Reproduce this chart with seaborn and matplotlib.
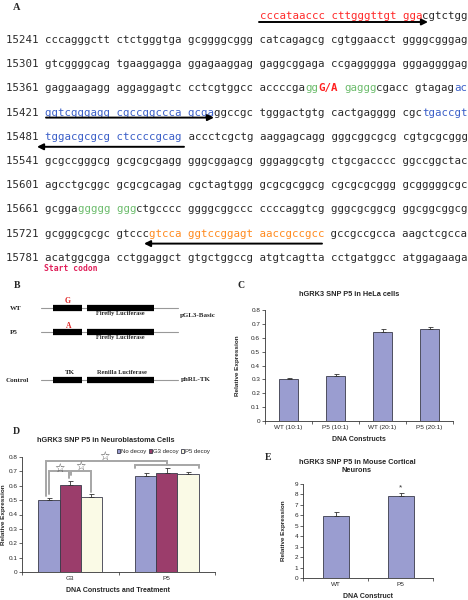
import numpy as np
import pandas as pd
import matplotlib
matplotlib.use('Agg')
import matplotlib.pyplot as plt
from matplotlib.ticker import FuncFormatter, MultipleLocator
import seaborn as sns

sns.set_style('ticks')
plt.rcParams['font.family'] = ['Liberation Sans', 'DejaVu Sans']

# ---- panel C: HeLa cells
hela_constructs = ['WT (10:1)', 'P5 (10:1)', 'WT (20:1)', 'P5 (20:1)']
hela_expr = [0.305, 0.322, 0.642, 0.665]
hela_err = [0.008, 0.015, 0.02, 0.01]

# ---- panel D: neuroblastoma cells
neuro_constructs = ['G3', 'P5']
neuro_treatments = ['No decoy', 'G3 decoy', 'P5 decoy']
neuro_expr_g3 = [0.502, 0.606, 0.52]
neuro_expr_p5 = [0.668, 0.692, 0.682]
neuro_err_g3 = [0.01, 0.03, 0.02]
neuro_err_p5 = [0.02, 0.03, 0.015]

# ---- panel E: mouse cortical neurons
cortical_constructs = ['WT', 'P5']
cortical_expr = [5.95, 7.85]
cortical_err = [0.4, 0.3]

# ---- panel A: promoter sequence (text, colour key)
primer_row = [(' ' * 39, 'k'), ('cccataaccc cttgggttgt gga', 'r'), ('cgtctgg', 'k')]
seq_rows = [
    [('15241 cccagggctt ctctgggtga gcggggcggg catcagagcg cgtggaacct ggggcgggag', 'k')],
    [('15301 gtcggggcag tgaaggagga ggagaaggag gaggcggaga ccgaggggga gggaggggag', 'k')],
    [('15361 gaggaagagg aggaggagtc cctcgtggcc accccga', 'k'), ('gg', 'g'), ('G/A', 'R'),
     (' ', 'k'), ('gaggg', 'g'), ('cgacc gtagag', 'k'), ('ac', 'b')],
    [('15421 ', 'k'), ('ggtcgggagg cgccggccca gcga', 'b'),
     ('ggccgc tgggactgtg cactgagggg cgc', 'k'), ('tgaccgt', 'b')],
    [('15481 ', 'k'), ('tggacgcgcg ctccccgcag', 'b'),
     (' accctcgctg aaggagcagg gggcggcgcg cgtgcgcggg', 'k')],
    [('15541 gcgccgggcg gcgcgcgagg gggcggagcg gggaggcgtg ctgcgacccc ggccggctac', 'k')],
    [('15601 agcctgcggc gcgcgcagag cgctagtggg gcgcgcggcg cgcgcgcggg gcgggggcgc', 'k')],
    [('15661 gcgga', 'k'), ('ggggg ggg', 'g'),
     ('ctgcccc ggggcggccc ccccaggtcg gggcgcggcg ggcggcggcg', 'k')],
    [('15721 gcgggcgcgc gtccc', 'k'), ('gtcca ggtccggagt aaccgccgcc', 'o'),
     (' gccgccgcca aagctcgcca', 'k')],
    [('15781 acatggcgga cctggaggct gtgctggccg atgtcagtta cctgatggcc atggagaaga', 'k')],
]
seq_colors = {'k': '#2a2a2a', 'r': '#ff2a2a', 'R': '#ff2020', 'g': '#6cbc6c',
              'b': '#3b5fc8', 'o': '#ff8a1e'}

W, H = 468, 600
fig = plt.figure(figsize=(W / 100, H / 100), dpi=100)

canvas = fig.add_axes([0, 0, 1, 1])
canvas.set_xlim(0, W)
canvas.set_ylim(H, 0)
canvas.axis('off')


def px_axes(x0, y0, x1, y1):
    return fig.add_axes([x0 / W, 1 - y1 / H, (x1 - x0) / W, (y1 - y0) / H])


serif = ['Liberation Serif', 'DejaVu Serif']
mono = ['DejaVu Sans Mono']
adv = 6.5
mono_size = adv / 0.6021 / (100 / 72)


def seq_line(segs, y):
    col = 0
    for txt, key in segs:
        if txt.strip():
            canvas.text(6 + col * adv, y, txt, family=mono, fontsize=mono_size,
                        color=seq_colors[key], va='center', ha='left',
                        weight='bold' if key == 'R' else 'normal')
        col += len(txt)


def arrow(x_from, x_to, y):
    canvas.annotate('', xy=(x_to, y), xytext=(x_from, y),
                    arrowprops=dict(arrowstyle='-|>', color='black', lw=1.4,
                                    mutation_scale=9, shrinkA=0, shrinkB=0))


# ---------------- panel A
canvas.text(13, 8, 'A', family=serif, weight='bold', fontsize=7.5, va='center')
seq_line(primer_row, 16)
arrow(259, 428, 22)
row_y = [40 + i * 24.2 for i in range(len(seq_rows))]
for segs, y in zip(seq_rows, row_y):
    seq_line(segs, y)
arrow(46, 214, row_y[3] + 5)
arrow(184, 37, row_y[4] + 10)
arrow(322, 144, row_y[8] + 10)
canvas.text(44, row_y[9] + 11, 'Start codon', family=mono, fontsize=5.8,
            color='#e0205a', weight='bold', va='center')

# ---------------- panel B
canvas.text(14, 285, 'B', family=serif, weight='bold', fontsize=7, va='center')
for lab, y, lx in [('WT', 308, 10), ('P5', 332, 10), ('Control', 380, 6)]:
    canvas.text(lx, y, lab, family=serif, weight='bold', fontsize=5, va='center')
    canvas.plot([41, 178], [y, y], color='#999999', lw=0.8)
    canvas.plot([53, 82], [y, y], color='black', lw=4.5, solid_capstyle='butt')
    canvas.plot([87, 154], [y, y], color='black', lw=4.5, solid_capstyle='butt')
canvas.text(68, 301, 'G', family=serif, weight='bold', fontsize=5.5, color='#e02020',
            ha='center', va='center')
canvas.text(69, 326, 'A', family=serif, weight='bold', fontsize=5.5, color='#e02020',
            ha='center', va='center')
canvas.text(120, 314, 'Firefly Luciferase', family=serif, weight='bold', fontsize=4.6,
            ha='center', va='center')
canvas.text(120, 338, 'Firefly Luciferase', family=serif, weight='bold', fontsize=4.6,
            ha='center', va='center')
canvas.text(70, 373, 'TK', family=serif, weight='bold', fontsize=5, ha='center', va='center')
canvas.text(122, 373, 'Renilla Luciferase', family=serif, weight='bold', fontsize=4.6,
            ha='center', va='center')
canvas.text(180, 316, 'pGL3-Basic', family=serif, weight='bold', fontsize=5, va='center')
canvas.text(181, 380, 'phRL-TK', family=serif, weight='bold', fontsize=5, va='center')

# shared chart styling
bar_blue = '#9a9dd0'
edge = '#3a3a4a'
tick_fs = 4.6


def style_axes(ax, ncat):
    sns.despine(ax=ax)
    for s in ['left', 'bottom']:
        ax.spines[s].set_linewidth(0.6)
        ax.spines[s].set_color('#333333')
    ax.tick_params(axis='y', length=2, width=0.5, labelsize=tick_fs, pad=1.5)
    ax.tick_params(axis='x', which='major', length=0, labelsize=tick_fs, pad=3)
    ax.set_xticks(np.arange(ncat + 1) - 0.5, minor=True)
    ax.tick_params(axis='x', which='minor', length=2, width=0.5)
    ax.set_xlim(-0.5, ncat - 0.5)
    ax.set_facecolor('none')


def add_err(ax, bars, errs):
    for bar, e in zip(bars, errs):
        ax.errorbar(bar.get_x() + bar.get_width() / 2, bar.get_height(),
                    yerr=[[0], [e]], fmt='none', ecolor='#333333', elinewidth=0.6,
                    capsize=1.8, capthick=0.6)


# ---------------- panel C
canvas.text(238, 285, 'C', family=serif, weight='bold', fontsize=7, va='center')
canvas.text(349, 294, 'hGRK3 SNP P5 in HeLa cells', fontsize=5.3, weight='bold',
            ha='center', va='center')
axc = px_axes(265, 310, 453, 421)
sns.barplot(x=hela_constructs, y=hela_expr, color=bar_blue, width=0.4,
            edgecolor=edge, linewidth=0.6, saturation=1, ax=axc)
add_err(axc, list(axc.containers)[0], hela_err)
style_axes(axc, len(hela_constructs))
axc.set_ylim(0, 0.8)
axc.yaxis.set_major_locator(MultipleLocator(0.1))
axc.yaxis.set_major_formatter(FuncFormatter(lambda v, p: '0' if abs(v) < 1e-9 else f'{v:.1f}'))
axc.set_xlabel('DNA Constructs', fontsize=5, weight='bold', labelpad=4)
axc.set_ylabel('Relative Expression', fontsize=4.6, weight='bold', labelpad=8)

# ---------------- panel D
canvas.text(13, 432, 'D', family=serif, weight='bold', fontsize=7, va='center')
canvas.text(106, 441, 'hGRK3 SNP P5 in Neuroblastoma Cells', fontsize=5.3,
            weight='bold', ha='center', va='center')
neuro = pd.DataFrame({
    'construct': np.repeat(neuro_constructs, len(neuro_treatments)),
    'treatment': neuro_treatments * len(neuro_constructs),
    'expr': neuro_expr_g3 + neuro_expr_p5,
})
neuro_palette = [bar_blue, '#9b3d6b', '#fafae6']
axd = px_axes(22, 457, 215, 572)
sns.barplot(data=neuro, x='construct', y='expr', hue='treatment', palette=neuro_palette,
            width=0.66, edgecolor=edge, linewidth=0.6, saturation=1, errorbar=None, ax=axd)
bar_groups = list(axd.containers)
for j, cont in enumerate(bar_groups):
    add_err(axd, cont, [neuro_err_g3[j], neuro_err_p5[j]])
style_axes(axd, len(neuro_constructs))
axd.tick_params(axis='y', pad=1)
axd.set_ylim(0, 0.8)
axd.yaxis.set_major_locator(MultipleLocator(0.1))
axd.yaxis.set_major_formatter(FuncFormatter(lambda v, p: '0' if abs(v) < 1e-9 else f'{v:.1f}'))
axd.set_xlabel('DNA Constructs and Treatment', fontsize=5, weight='bold', labelpad=4)
axd.set_ylabel('Relative Expression', fontsize=4.6, weight='bold', labelpad=2)
handles, labels = axd.get_legend_handles_labels()
axd.legend(handles, labels, ncol=3, loc='lower right', bbox_to_anchor=(0.99, 1.0),
           frameon=False, fontsize=4.3, handlelength=0.6, handleheight=0.6,
           handletextpad=0.15, columnspacing=0.35, borderpad=0.1, borderaxespad=0.4)

# significance brackets
cen = {}
for j, cont in enumerate(bar_groups):
    for i, bar in enumerate(cont):
        cen[(i, j)] = (bar.get_x(), bar.get_x() + bar.get_width() / 2, bar.get_x() + bar.get_width())
br = dict(color='#a6a6a6', lw=1.4, clip_on=False, solid_joinstyle='miter')
star = dict(ha='center', va='center', fontsize=8.5, color='#4a4a4a', family=['DejaVu Sans'])
x0, x1, x2 = cen[(0, 0)][1], cen[(0, 1)][1], cen[(0, 2)][1]
axd.plot([x0, x0, x1 - 0.01, x1 - 0.01], [0.545, 0.70, 0.70, 0.655], **br)
axd.text((x0 + x1) / 2, 0.722, '\u2606', **star)
axd.plot([x1 + 0.01, x1 + 0.01, x2, x2], [0.675, 0.70, 0.70, 0.56], **br)
axd.text((x1 + x2) / 2, 0.737, '\u2606', **star)
p_left, p_mid, p_right = cen[(1, 0)][0], cen[(1, 1)][1], cen[(1, 2)][2]
axd.plot([x0 - 0.03, x0 - 0.03, p_mid, p_mid], [0.53, 0.772, 0.772, 0.745], **br)
axd.plot([p_left, p_left, p_right, p_right], [0.725, 0.745, 0.745, 0.725], **br)
axd.text((x0 + p_mid) / 2 - 0.04, 0.805, '\u2606', **star)

# ---------------- panel E
canvas.text(265, 457, 'E', family=serif, weight='bold', fontsize=7, va='center')
canvas.text(357, 462, 'hGRK3 SNP P5 in Mouse Cortical', fontsize=5.3, weight='bold',
            ha='center', va='center')
canvas.text(357, 471, 'Neurons', fontsize=5.3, weight='bold', ha='center', va='center')
axe = px_axes(303, 484, 433, 578)
sns.barplot(x=cortical_constructs, y=cortical_expr, color=bar_blue, width=0.4,
            edgecolor=edge, linewidth=0.6, saturation=1, ax=axe)
add_err(axe, list(axe.containers)[0], cortical_err)
style_axes(axe, len(cortical_constructs))
axe.set_ylim(0, 9)
axe.yaxis.set_major_locator(MultipleLocator(1))
axe.text(1, cortical_expr[1] + cortical_err[1] + 0.45, '*', ha='center', va='center',
         fontsize=6, color='#333333')
axe.set_xlabel('DNA Construct', fontsize=5, weight='bold', labelpad=4)
axe.set_ylabel('Relative Expression', fontsize=4.6, weight='bold', labelpad=6)

fig.savefig('out.png', dpi=100)
